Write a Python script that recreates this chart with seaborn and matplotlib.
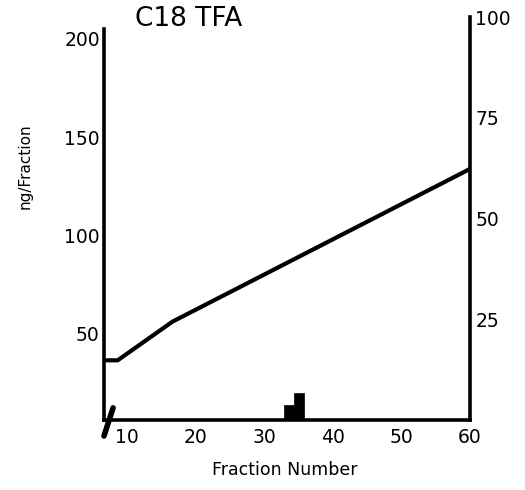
import pandas as pd
import matplotlib
matplotlib.use("Agg")
import matplotlib.pyplot as plt
import seaborn as sns

# gradient line (right axis, %)
grad_frac = [7.0, 8.6, 16.6, 60.0]
grad_pct = [14.8, 14.8, 24.4, 62.3]

# peptide amounts (left axis, ng/fraction)
bar_frac = [33.6, 35.0]
bar_ng = [13.4, 19.5]

x_ticks = [10, 20, 30, 40, 50, 60]
left_ticks = [50, 100, 150, 200]
right_ticks = [25, 50, 75, 100]

sns.set_theme(style="white")
plt.rcParams['font.family'] = ['DejaVu Sans']
plt.rcParams['text.color'] = 'black'

fig = plt.figure(figsize=(5.25, 4.9), dpi=100)
ax = fig.add_axes([0.198, 0.143, 0.697, 0.822])
ax2 = ax.twinx()

ax.bar(bar_frac, bar_ng, width=1.45, color="black", edgecolor="black",
       linewidth=0.5, zorder=3)

df = pd.DataFrame({"frac": grad_frac, "pct": grad_pct})
sns.lineplot(data=df, x="frac", y="pct", ax=ax2, color="black", lw=3, estimator=None)

ax.set_xlim(6.6, 60)
ax.set_ylim(6, 211)
ax2.set_ylim(0, 100)

ax.set_xticks(x_ticks)
ax.set_yticks(left_ticks)
ax2.set_yticks(right_ticks)
ax.tick_params(axis="both", length=0, labelsize=13.5, colors="black", pad=3)
ax2.tick_params(axis="y", length=0, labelsize=13.5, colors="black", pad=4)
ax.tick_params(axis="x", pad=6)

for a in (ax, ax2):
    a.spines["top"].set_visible(False)
    for s in ("left", "right", "bottom"):
        a.spines[s].set_color("black")
        a.spines[s].set_linewidth(2.6)
    a.set_xlabel("")
    a.set_ylabel("")
ax2.spines["left"].set_visible(False)
ax2.spines["bottom"].set_visible(False)
ax.spines["right"].set_visible(False)
ax.spines["left"].set_bounds(6, 205)

# axis break mark
ax.plot([0.0, 0.025], [-0.04, 0.03], transform=ax.transAxes, color="black",
        lw=4, clip_on=False, solid_capstyle="round")

fig.text(0.258, 0.962, "C18 TFA", fontsize=19, ha="left", va="center", color="black")
fig.text(0.543, 0.04, "Fraction Number", fontsize=12.5, ha="center", va="center", color="black")
fig.text(0.048, 0.66, "ng/Fraction", fontsize=11, ha="center", va="center",
         rotation=90, color="black")

fig.savefig("out.png", dpi=100)
